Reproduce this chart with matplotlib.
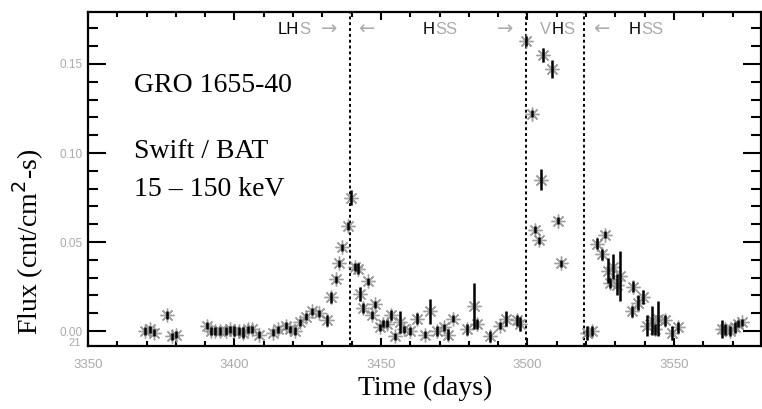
import matplotlib
matplotlib.use("Agg")
import matplotlib.pyplot as plt
from matplotlib import transforms
from matplotlib.ticker import MultipleLocator, FormatStrFormatter

# Swift/BAT light curve of GRO 1655-40
days = [3369.5, 3371.0, 3372.5, 3377.0, 3378.5, 3380.0, 3390.5, 3392.0, 3393.5, 3395.0,
        3397.0, 3398.5, 3400.0, 3401.5, 3403.0, 3404.5, 3406.0, 3408.5, 3413.0, 3415.0,
        3417.5, 3419.0, 3420.5, 3422.5, 3424.5, 3426.5, 3429.0, 3431.5, 3433.0, 3434.7,
        3435.6, 3436.8, 3438.9, 3439.6,
        3441.0, 3442.0, 3443.0, 3443.7, 3445.7, 3446.8, 3448.0, 3449.8, 3450.8, 3452.0,
        3453.5, 3454.8, 3456.5, 3458.0, 3460.0, 3462.2, 3465.0, 3466.8, 3469.0, 3471.5,
        3473.0, 3474.7, 3479.2, 3481.6, 3482.7, 3487.2, 3490.6, 3492.8, 3496.3, 3497.4,
        3499.5, 3501.4, 3502.6, 3504.0, 3504.6, 3505.4, 3508.3, 3510.5, 3511.3,
        3520.3, 3522.0, 3523.8, 3525.3, 3526.5, 3527.6, 3528.3, 3529.3, 3530.4, 3531.6,
        3535.6, 3536.0, 3537.8, 3539.4, 3540.7, 3542.4, 3543.5, 3544.6, 3546.9, 3549.2,
        3551.5,
        3566.3, 3567.4, 3569.1, 3570.8, 3571.9, 3573.1]
flux = [0.000, 0.001, -0.001, 0.009, -0.003, -0.002, 0.003, 0.000, 0.000, 0.000,
        0.000, 0.001, 0.000, 0.000, -0.001, 0.001, 0.001, -0.002, -0.001, 0.001,
        0.003, 0.001, 0.000, 0.005, 0.008, 0.011, 0.010, 0.006, 0.019, 0.029,
        0.038, 0.047, 0.059, 0.075,
        0.036, 0.035, 0.021, 0.013, 0.028, 0.009, 0.015, 0.002, 0.004, 0.004,
        0.009, -0.003, 0.005, 0.001, 0.000, 0.007, -0.002, 0.011, 0.000, 0.002,
        -0.002, 0.007, 0.001, 0.014, 0.004, -0.003, 0.003, 0.007, 0.006, 0.004,
        0.163, 0.122, 0.057, 0.051, 0.085, 0.155, 0.147, 0.062, 0.038,
        -0.001, 0.000, 0.049, 0.043, 0.054, 0.034, 0.027, 0.036, 0.026, 0.031,
        0.011, 0.025, 0.016, 0.019, 0.003, 0.006, 0.001, 0.007, 0.006, -0.001,
        0.002,
        0.001, 0.001, 0.000, 0.002, 0.004, 0.005]
flux_err = [0.002, 0.002, 0.002, 0.002, 0.002, 0.002, 0.002, 0.002, 0.002, 0.002,
            0.002, 0.002, 0.003, 0.002, 0.003, 0.002, 0.002, 0.002, 0.002, 0.002,
            0.002, 0.002, 0.002, 0.002, 0.002, 0.002, 0.002, 0.003, 0.003, 0.002,
            0.002, 0.002, 0.002, 0.004,
            0.002, 0.003, 0.004, 0.003, 0.002, 0.002, 0.002, 0.002, 0.002, 0.002,
            0.003, 0.002, 0.006, 0.002, 0.002, 0.003, 0.002, 0.007, 0.003, 0.002,
            0.003, 0.002, 0.003, 0.013, 0.003, 0.003, 0.002, 0.004, 0.003, 0.004,
            0.003, 0.002, 0.002, 0.002, 0.006, 0.004, 0.005, 0.002, 0.002,
            0.004, 0.003, 0.003, 0.003, 0.002, 0.007, 0.003, 0.007, 0.006, 0.014,
            0.003, 0.003, 0.004, 0.004, 0.006, 0.008, 0.003, 0.010, 0.003, 0.004,
            0.003,
            0.005, 0.003, 0.003, 0.003, 0.002, 0.002]

# state transitions (days) and state labels
transitions = [3439.5, 3499.6, 3519.4]
state_labels = [
    (3414.8, [("LH", "black"), ("S", "#aaaaaa")]),
    (3464.3, [("H", "black"), ("SS", "#aaaaaa")]),
    (3504.3, [("V", "#aaaaaa"), ("H", "black"), ("S", "#aaaaaa")]),
    (3534.6, [("H", "black"), ("SS", "#aaaaaa")]),
]
arrows = [(3429.6, "\u2192"), (3442.0, "\u2190"), (3489.4, "\u2192"), (3522.2, "\u2190")]
info_lines = [("GRO 1655-40", 85), ("Swift / BAT", 152), ("15 \u2013 150 keV", 190)]

W, H = 762, 409
fig = plt.figure(figsize=(W / 100, H / 100), dpi=100)
ax = fig.add_axes([88 / W, 63 / H, 673 / W, 334 / H])

ax.plot(days, flux, linestyle="none", marker=(8, 2, 0), markersize=10,
        markeredgewidth=1.0, color="#8a8a8a", alpha=0.8, zorder=2)
ax.errorbar(days, flux, yerr=flux_err, fmt="none", ecolor="black",
            elinewidth=1.8, capsize=0, zorder=3)

for t in transitions:
    ax.axvline(t, color="black", linestyle=(0, (1.5, 1.5)), linewidth=1.4, zorder=1)

ax.set_xlim(3350, 3579.7)
ax.set_ylim(-0.0084, 0.1792)
ax.xaxis.set_major_locator(MultipleLocator(50))
ax.xaxis.set_minor_locator(MultipleLocator(10))
ax.yaxis.set_major_locator(MultipleLocator(0.05))
ax.yaxis.set_minor_locator(MultipleLocator(0.01))
ax.yaxis.set_major_formatter(FormatStrFormatter("%.2f"))

ax.tick_params(which="both", direction="in", top=True, right=True,
               colors="black", labelcolor="#aaaaaa")
ax.tick_params(axis="x", which="major", length=6, width=1.5, labelsize=9.5, pad=9)
ax.tick_params(axis="x", which="minor", length=3.5, width=1.5)
ax.tick_params(axis="y", which="major", length=13, width=1.5, labelsize=8.5, pad=4)
ax.tick_params(axis="y", which="minor", length=7, width=1.5)
for lab in ax.get_xticklabels() + ax.get_yticklabels():
    lab.set_family("Liberation Sans")
for sp in ax.spines.values():
    sp.set_linewidth(1.6)

serif = "Liberation Serif"
for s, ypix in info_lines:
    fig.text(134 / W, 1 - ypix / H, s, fontsize=20, family=serif, va="center")

fig.text(425 / W, 1 - 388 / H, "Time (days)", fontsize=20, family=serif,
         ha="center", va="center")
fig.text(28 / W, 1 - 242 / H, "Flux (cnt/cm$^2$-s)", fontsize=20, family=serif,
         rotation=90, ha="center", va="center")
fig.text(75 / W, 1 - 343 / H, "21", fontsize=8, color="#aaaaaa",
         family="Liberation Sans", ha="center", va="center")

# state labels with mixed colours, drawn piece by piece
fig.canvas.draw()
renderer = fig.canvas.get_renderer()
ypos = (346 - 29) / 334
blend = transforms.blended_transform_factory(ax.transData, ax.transAxes)
for x0, parts in state_labels:
    tr = blend
    for s, c in parts:
        txt = ax.text(x0, ypos, s, color=c, transform=tr, fontsize=12,
                      family="Liberation Sans", va="center", ha="left")
        txt.draw(renderer)
        ex = txt.get_window_extent(renderer)
        tr = transforms.offset_copy(txt.get_transform(), fig=fig, x=ex.width, units="dots")
for x0, s in arrows:
    ax.text(x0, ypos, s, color="#aaaaaa", transform=blend, fontsize=14,
            family=["DejaVu Sans"], va="center", ha="left")

fig.savefig("out.png", dpi=100)
